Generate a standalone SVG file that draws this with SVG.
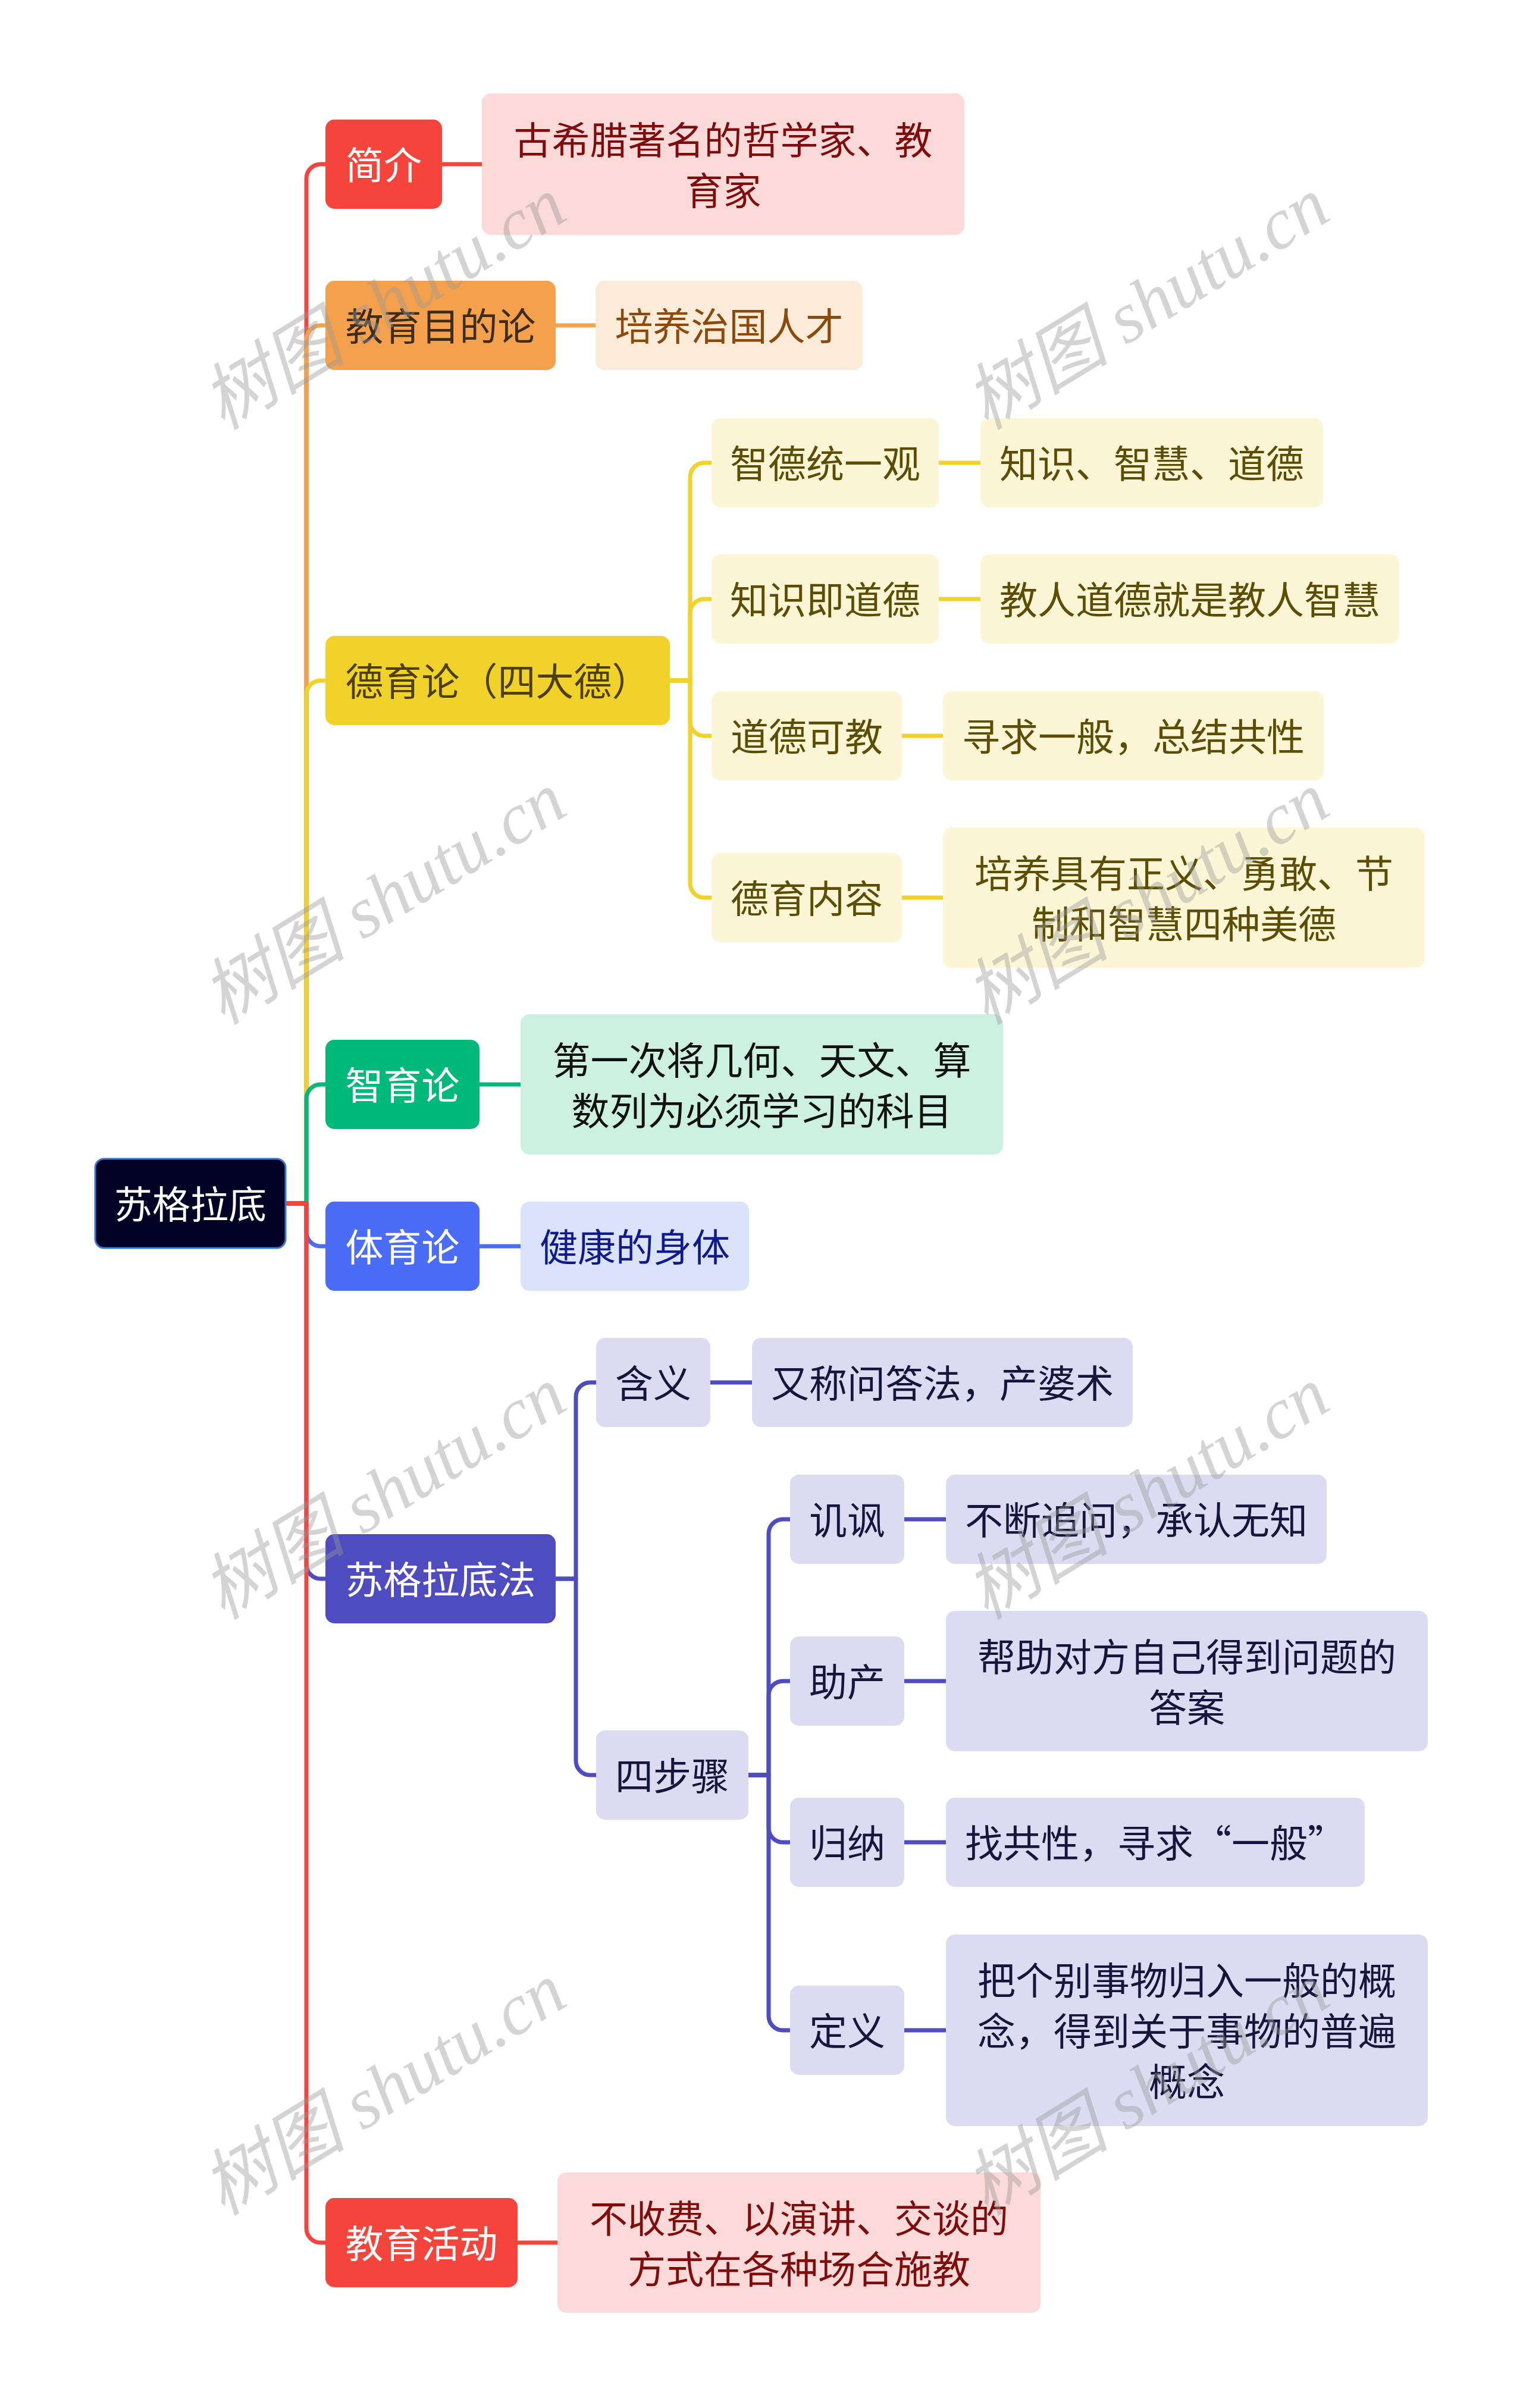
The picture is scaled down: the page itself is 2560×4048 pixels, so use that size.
<svg xmlns="http://www.w3.org/2000/svg" width="2560" height="4048" viewBox="0 0 2560 4048">
<style>
.t{font-family:"Noto Sans CJK SC","Noto Sans",sans-serif;font-size:64px;text-anchor:middle;dominant-baseline:central;transform:translateY(-3px)}
.c{fill:none;stroke-width:7;stroke-linecap:butt;stroke-linejoin:round}
.wm{font-family:"Liberation Serif","Noto Sans CJK SC",serif;font-style:italic;font-size:122px;fill:#999999;fill-opacity:0.42;text-anchor:middle;dominant-baseline:central}
.red{stroke:#F5443C}.org{stroke:#F4A04C}.yel{stroke:#F0D22A}.grn{stroke:#00B87A}.blu{stroke:#4A6CF7}.ind{stroke:#4F4BC0}
</style>
<rect width="2560" height="4048" fill="#FFFFFF"/>
<g id="connectors">
<path class="c red" d="M480,2023 H515 V300 A24,24 0 0 1 539,276 H548"/>
<path class="c org" d="M480,2023 H515 V571 A24,24 0 0 1 539,547 H548"/>
<path class="c yel" d="M480,2023 H515 V1168 A24,24 0 0 1 539,1144 H548"/>
<path class="c grn" d="M480,2023 H515 V1847 A24,24 0 0 1 539,1823 H548"/>
<path class="c blu" d="M480,2023 H515 V2071 A24,24 0 0 0 539,2095 H548"/>
<path class="c ind" d="M480,2023 H515 V2630 A24,24 0 0 0 539,2654 H548"/>
<path class="c red" d="M480,2023 H515 V3746 A24,24 0 0 0 539,3770 H548"/>
<path class="c red" d="M743,276 H811"/>
<path class="c org" d="M934,547 H1002"/>
<path class="c grn" d="M806,1823 H876"/>
<path class="c blu" d="M806,2095 H876"/>
<path class="c red" d="M870,3770 H938"/>
<path class="c yel" d="M1126,1144 H1160 V802 A24,24 0 0 1 1184,778 H1197"/>
<path class="c yel" d="M1126,1144 H1160 V1031 A24,24 0 0 1 1184,1007 H1197"/>
<path class="c yel" d="M1126,1144 H1160 V1213 A24,24 0 0 0 1184,1237 H1197"/>
<path class="c yel" d="M1126,1144 H1160 V1485 A24,24 0 0 0 1184,1509 H1197"/>
<path class="c yel" d="M1578,778 H1649"/>
<path class="c yel" d="M1578,1007 H1649"/>
<path class="c yel" d="M1516,1237 H1586"/>
<path class="c yel" d="M1516,1509 H1586"/>
<path class="c ind" d="M934,2654 H968 V2348 A24,24 0 0 1 992,2324 H1003"/>
<path class="c ind" d="M934,2654 H968 V2960 A24,24 0 0 0 992,2984 H1003"/>
<path class="c ind" d="M1194,2324 H1265"/>
<path class="c ind" d="M1258,2984 H1292 V2578 A24,24 0 0 1 1316,2554 H1329"/>
<path class="c ind" d="M1258,2984 H1292 V2850 A24,24 0 0 1 1316,2826 H1329"/>
<path class="c ind" d="M1258,2984 H1292 V3073 A24,24 0 0 0 1316,3097 H1329"/>
<path class="c ind" d="M1258,2984 H1292 V3389 A24,24 0 0 0 1316,3413 H1329"/>
<path class="c ind" d="M1520,2554 H1591"/>
<path class="c ind" d="M1520,2826 H1591"/>
<path class="c ind" d="M1520,3097 H1591"/>
<path class="c ind" d="M1520,3413 H1591"/>
</g>
<g id="root"><rect x="160" y="1948" width="320" height="150" rx="15" fill="#020324" stroke="#3A78D6" stroke-width="3"/><text class="t" x="320" y="2023" fill="#FFFFFF">苏格拉底</text></g>
<g id="n1"><rect x="547" y="201" width="196" height="150" rx="15" fill="#F5443C"/><text class="t" x="645" y="276" fill="#FFFFFF">简介</text></g>
<g id="n1a"><rect x="810" y="157" width="811" height="238" rx="15" fill="#FDDADA"/><text class="t" x="1215.5" fill="#7F0B0B"><tspan x="1215.5" y="233.5">古希腊著名的哲学家、教</tspan><tspan x="1215.5" y="318.5">育家</tspan></text></g>
<g id="n2"><rect x="547" y="472" width="387" height="150" rx="15" fill="#F4A04C"/><text class="t" x="740.5" y="547" fill="#3D2C1A">教育目的论</text></g>
<g id="n2a"><rect x="1001" y="472" width="449" height="150" rx="15" fill="#FDEBDA"/><text class="t" x="1225.5" y="547" fill="#8B4A0C">培养治国人才</text></g>
<g id="n3"><rect x="547" y="1069" width="579" height="150" rx="15" fill="#F0D22A"/><text class="t" x="836.5" y="1144" fill="#4D3F00">德育论（四大德）</text></g>
<g id="n3a"><rect x="1196" y="703" width="382" height="150" rx="15" fill="#FCF6D6"/><text class="t" x="1387" y="778" fill="#5C4D02">智德统一观</text></g>
<g id="n3a1"><rect x="1648" y="703" width="576" height="150" rx="15" fill="#FCF6D6"/><text class="t" x="1936" y="778" fill="#5C4D02">知识、智慧、道德</text></g>
<g id="n3b"><rect x="1196" y="932" width="382" height="150" rx="15" fill="#FCF6D6"/><text class="t" x="1387" y="1007" fill="#5C4D02">知识即道德</text></g>
<g id="n3b1"><rect x="1648" y="932" width="704" height="150" rx="15" fill="#FCF6D6"/><text class="t" x="2000" y="1007" fill="#5C4D02">教人道德就是教人智慧</text></g>
<g id="n3c"><rect x="1196" y="1162" width="320" height="150" rx="15" fill="#FCF6D6"/><text class="t" x="1356" y="1237" fill="#5C4D02">道德可教</text></g>
<g id="n3c1"><rect x="1585" y="1162" width="640" height="150" rx="15" fill="#FCF6D6"/><text class="t" x="1905" y="1237" fill="#5C4D02">寻求一般，总结共性</text></g>
<g id="n3d"><rect x="1196" y="1434" width="320" height="150" rx="15" fill="#FCF6D6"/><text class="t" x="1356" y="1509" fill="#5C4D02">德育内容</text></g>
<g id="n3d1"><rect x="1585" y="1391" width="810" height="236" rx="15" fill="#FCF6D6"/><text class="t" x="1990" fill="#5C4D02"><tspan x="1990" y="1466.5">培养具有正义、勇敢、节</tspan><tspan x="1990" y="1551.5">制和智慧四种美德</tspan></text></g>
<g id="n4"><rect x="547" y="1748" width="259" height="150" rx="15" fill="#00B87A"/><text class="t" x="676.5" y="1823" fill="#FFFFFF">智育论</text></g>
<g id="n4a"><rect x="875" y="1705" width="811" height="236" rx="15" fill="#CCF1E3"/><text class="t" x="1280.5" fill="#111111"><tspan x="1280.5" y="1780.5">第一次将几何、天文、算</tspan><tspan x="1280.5" y="1865.5">数列为必须学习的科目</tspan></text></g>
<g id="n5"><rect x="547" y="2020" width="259" height="150" rx="15" fill="#4A6CF7"/><text class="t" x="676.5" y="2095" fill="#FFFFFF">体育论</text></g>
<g id="n5a"><rect x="875" y="2020" width="384" height="150" rx="15" fill="#DBE2FB"/><text class="t" x="1067" y="2095" fill="#0F1B8C">健康的身体</text></g>
<g id="n6"><rect x="547" y="2579" width="387" height="150" rx="15" fill="#4F4BC0"/><text class="t" x="740.5" y="2654" fill="#FFFFFF">苏格拉底法</text></g>
<g id="n6a"><rect x="1002" y="2249" width="192" height="150" rx="15" fill="#DCDBF2"/><text class="t" x="1098" y="2324" fill="#15153D">含义</text></g>
<g id="n6a1"><rect x="1264" y="2249" width="640" height="150" rx="15" fill="#DCDBF2"/><text class="t" x="1584" y="2324" fill="#15153D">又称问答法，产婆术</text></g>
<g id="n6b"><rect x="1002" y="2909" width="256" height="150" rx="15" fill="#DCDBF2"/><text class="t" x="1130" y="2984" fill="#15153D">四步骤</text></g>
<g id="n6b1"><rect x="1328" y="2479" width="192" height="150" rx="15" fill="#DCDBF2"/><text class="t" x="1424" y="2554" fill="#15153D">讥讽</text></g>
<g id="n6b1a"><rect x="1590" y="2479" width="640" height="150" rx="15" fill="#DCDBF2"/><text class="t" x="1910" y="2554" fill="#15153D">不断追问，承认无知</text></g>
<g id="n6b2"><rect x="1328" y="2751" width="192" height="150" rx="15" fill="#DCDBF2"/><text class="t" x="1424" y="2826" fill="#15153D">助产</text></g>
<g id="n6b2a"><rect x="1590" y="2708" width="810" height="236" rx="15" fill="#DCDBF2"/><text class="t" x="1995" fill="#15153D"><tspan x="1995" y="2783.5">帮助对方自己得到问题的</tspan><tspan x="1995" y="2868.5">答案</tspan></text></g>
<g id="n6b3"><rect x="1328" y="3022" width="192" height="150" rx="15" fill="#DCDBF2"/><text class="t" x="1424" y="3097" fill="#15153D">归纳</text></g>
<g id="n6b3a"><rect x="1590" y="3022" width="704" height="150" rx="15" fill="#DCDBF2"/><text class="t" x="1942" y="3097" fill="#15153D">找共性，寻求“一般”</text></g>
<g id="n6b4"><rect x="1328" y="3338" width="192" height="150" rx="15" fill="#DCDBF2"/><text class="t" x="1424" y="3413" fill="#15153D">定义</text></g>
<g id="n6b4a"><rect x="1590" y="3252" width="810" height="322" rx="15" fill="#DCDBF2"/><text class="t" x="1995" fill="#15153D"><tspan x="1995" y="3328">把个别事物归入一般的概</tspan><tspan x="1995" y="3413">念，得到关于事物的普遍</tspan><tspan x="1995" y="3498">概念</tspan></text></g>
<g id="n7"><rect x="547" y="3695" width="323" height="150" rx="15" fill="#F5443C"/><text class="t" x="708.5" y="3770" fill="#FFFFFF">教育活动</text></g>
<g id="n7a"><rect x="937" y="3652" width="812" height="236" rx="15" fill="#FDDADA"/><text class="t" x="1343" fill="#7F0B0B"><tspan x="1343" y="3727.5">不收费、以演讲、交谈的</tspan><tspan x="1343" y="3812.5">方式在各种场合施教</tspan></text></g>
<g id="watermarks">
<text class="wm" x="645" y="510" transform="rotate(-31.5 645 510)">树图 shutu.cn</text>
<text class="wm" x="1928" y="510" transform="rotate(-31.5 1928 510)">树图 shutu.cn</text>
<text class="wm" x="645" y="1510" transform="rotate(-31.5 645 1510)">树图 shutu.cn</text>
<text class="wm" x="1928" y="1510" transform="rotate(-31.5 1928 1510)">树图 shutu.cn</text>
<text class="wm" x="645" y="2510" transform="rotate(-31.5 645 2510)">树图 shutu.cn</text>
<text class="wm" x="1928" y="2510" transform="rotate(-31.5 1928 2510)">树图 shutu.cn</text>
<text class="wm" x="645" y="3512" transform="rotate(-31.5 645 3512)">树图 shutu.cn</text>
<text class="wm" x="1928" y="3512" transform="rotate(-31.5 1928 3512)">树图 shutu.cn</text>
</g>
</svg>
